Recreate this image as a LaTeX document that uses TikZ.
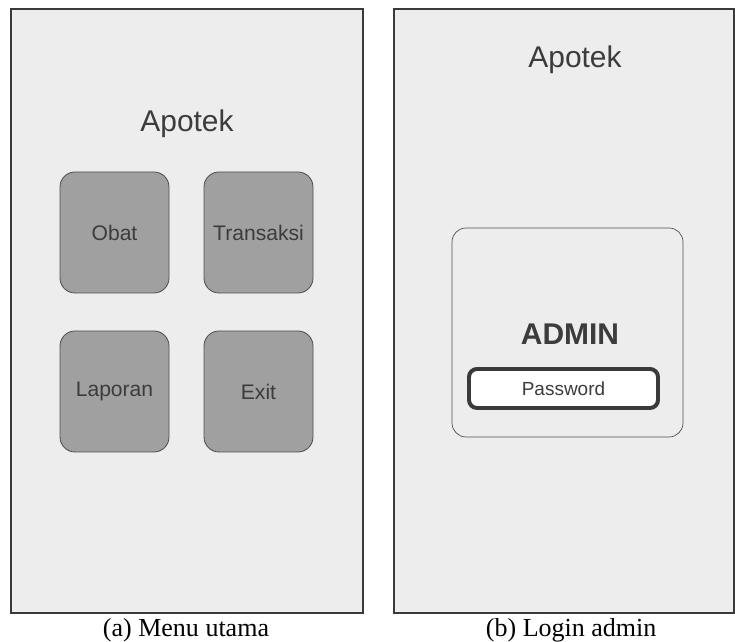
\documentclass[tikz,border=0pt]{standalone}
\usepackage{fontspec}
\setmainfont{Liberation Sans}
\newfontfamily\capfont{Liberation Serif}
\usepackage{tikz}
\usetikzlibrary{positioning}
\definecolor{scrfill}{RGB}{237,237,237}
\definecolor{scrline}{RGB}{58,58,58}
\definecolor{btnfill}{RGB}{160,160,160}
\definecolor{btnline}{RGB}{80,80,80}
\definecolor{txtgray}{RGB}{60,60,60}
\tikzset{
  screen/.style={draw=scrline, fill=scrfill, line width=0.8pt, minimum height=15.1cm, inner sep=0pt},
  menubtn/.style={draw=btnline, fill=btnfill, line width=0.6pt, rounded corners=0.375cm, minimum width=2.725cm, minimum height=3.025cm, inner sep=0pt, font=\fontsize{15}{17}\selectfont, text=txtgray},
  apptitle/.style={anchor=base, font=\fontsize{21.3}{24}\selectfont, text=txtgray},
  caption/.style={anchor=base, font=\capfont\fontsize{18.5}{21}\selectfont, text=black}
}

\begin{document}
\begin{tikzpicture}
  \useasboundingbox (0,0) rectangle (18.375,16.05);

  % (a) menu utama
  \node[screen, minimum width=8.8cm] (menu) at (4.675,8.275) {};
  \node[apptitle] (menutitle) at (4.675,12.75) {Apotek};

  \node[menubtn] (obat)      at (2.8625,10.2375) {Obat};
  \node[menubtn] (transaksi) at (6.4625,10.2375) {Transaksi};
  \node[menubtn] (laporan)   at (2.8625,6.2625)  {Laporan};
  \node[menubtn] (exit)      at (6.4625,6.2625)  {Exit};

  \node[caption] (capa) at (4.65,0.125) {(a) Menu utama};

  % (b) login admin
  \node[screen, minimum width=8.5cm] (login) at (14.1,8.275) {};
  \node[apptitle] (logintitle) at (14.375,14.35) {Apotek};

  \node[draw=btnline, fill=scrfill, line width=0.5pt, rounded corners=0.35cm, minimum width=5.775cm, minimum height=5.225cm, inner sep=0pt] (loginbox) at (14.1875,7.7375) {};
  \node[anchor=base, font=\bfseries\fontsize{21.3}{24}\selectfont, text=txtgray] (admin) at (14.25,7.425) {ADMIN};
  \node[draw=scrline, fill=white, line width=2.8pt, rounded corners=0.2cm, minimum width=4.725cm, minimum height=0.975cm, inner sep=0pt, font=\fontsize{13.5}{15}\selectfont, text=txtgray] (password) at (14.0875,6.3375) {Password};

  \node[caption] (capb) at (14.28,0.125) {(b) Login admin};
\end{tikzpicture}
\end{document}
